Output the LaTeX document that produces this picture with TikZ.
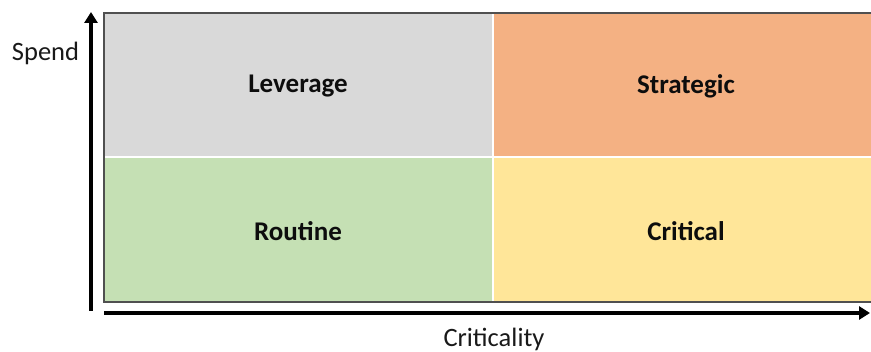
\documentclass[tikz,border=0pt]{standalone}
\usepackage{fontspec}
\setmainfont{Carlito}
\usetikzlibrary{arrows.meta}
\definecolor{qgray}{HTML}{D9D9D9}
\definecolor{qorange}{HTML}{F4B183}
\definecolor{qgreen}{HTML}{C5E0B4}
\definecolor{qyellow}{HTML}{FFE699}
\definecolor{edge}{HTML}{505050}
\tikzset{
  quadlabel/.style={font=\fontsize{27}{32}\selectfont\bfseries, text=black!95},
  axislabel/.style={font=\fontsize{26.5}{30}\selectfont, text=black!90},
  axisarrow/.style={line width=3.6pt, -{Triangle[length=11pt,width=13pt]}},
}
\begin{document}
\begin{tikzpicture}[x=1pt,y=-1pt]
\useasboundingbox (0,0) rectangle (871,352);
\begin{scope}
\clip (0,0) rectangle (871,352);
\fill[qgray] (104,13) rectangle (493,157);
\fill[qorange] (493,13) rectangle (875,157);
\fill[qgreen] (104,157) rectangle (493,302);
\fill[qyellow] (493,157) rectangle (875,302);
\draw[white, line width=2.2pt] (493,13) -- (493,302);
\draw[white, line width=2.2pt] (104,157) -- (875,157);
\draw[edge, line width=1.2pt] (104,13) rectangle (880,302);
\end{scope}
\node[quadlabel] (lev) at (298,86) {Leverage};
\node[quadlabel] (str) at (686,86) {Strategic};
\node[quadlabel] (rou) at (298,231) {Routine};
\node[quadlabel] (cri) at (686,231) {Critical};
\coordinate (ybot) at (91,311);
\coordinate (ytop) at (91,12);
\coordinate (xl) at (104,313);
\coordinate (xr) at (870,313);
\draw[axisarrow] (ybot) -- (ytop);
\draw[axisarrow] (xl) -- (xr);
\node[axislabel] (spend) at (45.5,53) {Spend};
\node[axislabel] (crit) at (494,339) {Criticality};
\end{tikzpicture}
\end{document}
